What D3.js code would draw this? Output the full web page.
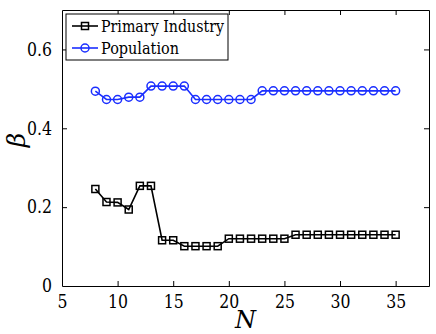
<!DOCTYPE html>
<html>
<head>
<meta charset="utf-8">
<script src="https://cdn.jsdelivr.net/npm/d3@7"></script>
<style>
  body { margin: 0; background: #fff; }
</style>
</head>
<body>
<div id="chart"></div>
<script>
const nValues = [8, 9, 10, 11, 12, 13, 14, 15, 16, 17, 18, 19, 20, 21, 22, 23, 24, 25, 26, 27, 28, 29, 30, 31, 32, 33, 34, 35];
const primaryIndustry = [0.246, 0.213, 0.212, 0.194, 0.254, 0.254, 0.116, 0.116, 0.101, 0.101, 0.101, 0.101, 0.120, 0.120,
  0.120, 0.120, 0.120, 0.120, 0.130, 0.130, 0.130, 0.130, 0.130, 0.130, 0.130, 0.130, 0.130, 0.130];
const population = [0.494, 0.473, 0.473, 0.479, 0.479, 0.507, 0.507, 0.507, 0.507, 0.473, 0.473, 0.473, 0.473, 0.473,
  0.473, 0.495, 0.495, 0.495, 0.495, 0.495, 0.495, 0.495, 0.495, 0.495, 0.495, 0.495, 0.495, 0.495];
const xTicks = [5, 10, 15, 20, 25, 30, 35];
const yTicks = [0, 0.2, 0.4, 0.6];
const seriesNames = ["Primary Industry", "Population"];

const width = 436;
const height = 334;
const margin = { top: 10, right: 7, bottom: 48, left: 62 };
const serif = "'DejaVu Serif', serif";

// the original used a narrow Times face; squeeze the wider serif to that width
const narrowWidth = (s, size) => d3.sum(s.split(""), c => c === "." ? 0.25 : 0.5) * size;

const svg = d3.select("#chart")
  .append("svg")
  .attr("width", width)
  .attr("height", height)
  .style("font-family", serif);

const x = d3.scaleLinear()
  .domain([5, 38])
  .range([margin.left, width - margin.right]);

const y = d3.scaleLinear()
  .domain([0, 0.7])
  .range([height - margin.bottom, margin.top]);

const fmt = d => d === 0 ? "0" : d3.format(".1f")(d);

// axes, ticks inside on all four sides
const axBottom = svg.append("g")
  .attr("transform", `translate(0,${height - margin.bottom})`)
  .call(d3.axisBottom(x).tickValues(xTicks).tickSizeInner(-5).tickSizeOuter(0).tickPadding(9));
const axTop = svg.append("g")
  .attr("transform", `translate(0,${margin.top})`)
  .call(d3.axisTop(x).tickValues(xTicks).tickSizeInner(-5).tickSizeOuter(0).tickFormat(""));
const axLeft = svg.append("g")
  .attr("transform", `translate(${margin.left},0)`)
  .call(d3.axisLeft(y).tickValues(yTicks).tickFormat(fmt).tickSizeInner(-5).tickSizeOuter(0).tickPadding(10));
const axRight = svg.append("g")
  .attr("transform", `translate(${width - margin.right},0)`)
  .call(d3.axisRight(y).tickValues(yTicks).tickSizeInner(-5).tickSizeOuter(0).tickFormat(""));

[axBottom, axTop, axLeft, axRight].forEach(g => {
  g.attr("font-family", null).attr("font-size", null);
  g.selectAll("path.domain").attr("stroke", "#000").attr("stroke-width", 1);
  g.selectAll(".tick line").attr("stroke", "#000");
  g.selectAll(".tick text").attr("fill", "#000")
    .style("font-size", "18px")
    .style("font-family", serif)
    .attr("textLength", function () { return narrowWidth(this.textContent, 20); })
    .attr("lengthAdjust", "spacingAndGlyphs");
});
// no tick marks in the corners
axBottom.selectAll(".tick").filter(d => d === 5).select("line").remove();
axTop.selectAll(".tick").filter(d => d === 5).select("line").remove();
axLeft.selectAll(".tick").filter(d => d === 0).select("line").remove();
axRight.selectAll(".tick").filter(d => d === 0).select("line").remove();

// axis labels
svg.append("text")
  .attr("x", x(21.5))
  .attr("y", 328)
  .attr("text-anchor", "middle")
  .style("font-size", "24px")
  .style("font-style", "italic")
  .style("font-family", serif)
  .text("N");

svg.append("text")
  .attr("transform", `translate(25,${y(0.37)}) rotate(-90)`)
  .attr("text-anchor", "middle")
  .style("font-size", "25px")
  .style("font-style", "italic")
  .style("font-family", serif)
  .text("β");

const line = d3.line()
  .x(d => x(d[0]))
  .y(d => y(d[1]));

const blue = "#1a2eff";
const series = [
  { name: seriesNames[0], values: primaryIndustry, color: "#000", marker: "square", textW: 123 },
  { name: seriesNames[1], values: population, color: blue, marker: "circle", textW: 78 }
];

function drawMarker(g, type, cx, cy, color) {
  if (type === "square") {
    g.append("rect")
      .attr("x", cx - 3.5).attr("y", cy - 3.5)
      .attr("width", 7).attr("height", 7)
      .attr("fill", "none").attr("stroke", color).attr("stroke-width", 1.5);
  } else {
    g.append("circle")
      .attr("cx", cx).attr("cy", cy).attr("r", 4)
      .attr("fill", "none").attr("stroke", color).attr("stroke-width", 1.5);
  }
}

series.forEach(s => {
  const pts = nValues.map((n, i) => [n, s.values[i]]);
  svg.append("path")
    .datum(pts)
    .attr("fill", "none")
    .attr("stroke", s.color)
    .attr("stroke-width", 1.6)
    .attr("d", line);
  const g = svg.append("g");
  pts.forEach(p => drawMarker(g, s.marker, x(p[0]), y(p[1]), s.color));
});

// legend
const legend = svg.append("g").attr("transform", "translate(66,14)");
legend.append("rect")
  .attr("width", 162).attr("height", 46)
  .attr("fill", "#fff").attr("stroke", "#000").attr("stroke-width", 1);
series.forEach((s, i) => {
  const ly = 12 + i * 22;
  legend.append("line")
    .attr("x1", 6).attr("x2", 32).attr("y1", ly).attr("y2", ly)
    .attr("stroke", s.color).attr("stroke-width", 1.6);
  drawMarker(legend, s.marker, 19, ly, s.color);
  legend.append("text")
    .attr("x", 35).attr("y", ly + 6)
    .style("font-size", "17px")
    .style("font-family", serif)
    .attr("textLength", s.textW)
    .attr("lengthAdjust", "spacingAndGlyphs")
    .text(s.name);
});
</script>
</body>
</html>
